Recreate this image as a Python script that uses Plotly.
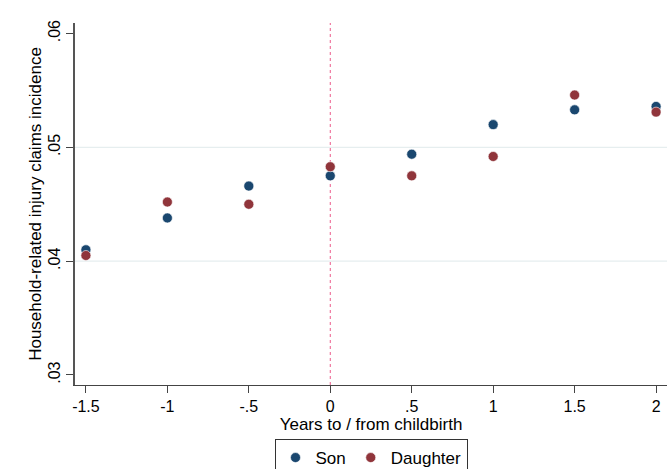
import plotly.graph_objects as go

# Years relative to childbirth
years = [-1.5, -1.0, -0.5, 0.0, 0.5, 1.0, 1.5, 2.0]

# Household-related injury claims incidence by child's sex
son = [0.0410, 0.0438, 0.0466, 0.0475, 0.0494, 0.0520, 0.0533, 0.0536]
daughter = [0.0405, 0.0452, 0.0450, 0.0483, 0.0475, 0.0492, 0.0546, 0.0531]

y_ticks = [0.03, 0.04, 0.05, 0.06]
y_tick_labels = [".03", ".04", ".05", ".06"]
x_ticks = [-1.5, -1, -0.5, 0, 0.5, 1, 1.5, 2]
x_tick_labels = ["-1.5", "-1", "-.5", "0", ".5", "1", "1.5", "2"]
grid_levels = [0.04, 0.05]

NAVY = "#1a476f"
MAROON = "#90353b"
FONT = "Liberation Sans, Arial, sans-serif"

fig = go.Figure()
fig.add_trace(go.Scatter(
    x=years, y=son, mode="markers", name="Son",
    marker=dict(color=NAVY, size=10, line=dict(color="white", width=0.6)),
))
fig.add_trace(go.Scatter(
    x=years, y=daughter, mode="markers", name="Daughter",
    marker=dict(color=MAROON, size=10, line=dict(color="white", width=0.6)),
))

shapes = []
for g in grid_levels:
    shapes.append(dict(type="line", xref="paper", yref="y", x0=0, x1=1, y0=g, y1=g,
                       line=dict(color="#e6eeef", width=1.2), layer="below"))
# childbirth reference line
shapes.append(dict(type="line", xref="x", yref="paper", x0=0, x1=0, y0=0, y1=1,
                   line=dict(color="#ec5a8a", width=1, dash="dot"), layer="below"))

fig.update_layout(
    width=671, height=469,
    margin=dict(l=75, r=4, t=23, b=84),
    paper_bgcolor="white", plot_bgcolor="white",
    font=dict(family=FONT, size=16, color="black"),
    shapes=shapes,
    showlegend=True,
    legend=dict(
        orientation="h", xref="paper", x=0.5, xanchor="center",
        yref="container", y=1 - 439 / 469, yanchor="top",
        bordercolor="#333333", borderwidth=1, bgcolor="white",
        font=dict(family=FONT, size=17, color="black"),
        itemwidth=30, tracegroupgap=0,
    ),
    xaxis=dict(
        range=[-1.567, 2.067], tickvals=x_ticks, ticktext=x_tick_labels,
        showgrid=False, zeroline=False,
        showline=True, linecolor="#444444", linewidth=1,
        ticks="outside", ticklen=7, tickcolor="#444444",
        tickfont=dict(size=16),
        title=dict(text="Years to / from childbirth", font=dict(size=17), standoff=1),
    ),
    yaxis=dict(
        range=[0.02912, 0.06093], tickvals=y_ticks, ticktext=y_tick_labels,
        tickangle=-90, showgrid=False, zeroline=False,
        showline=True, linecolor="#555555", linewidth=1.5,
        ticks="outside", ticklen=7, tickcolor="#444444",
        tickfont=dict(size=16),
        title=dict(text="Household-related injury claims incidence", font=dict(size=17), standoff=0),
    ),
)

fig.write_html("out.html")
